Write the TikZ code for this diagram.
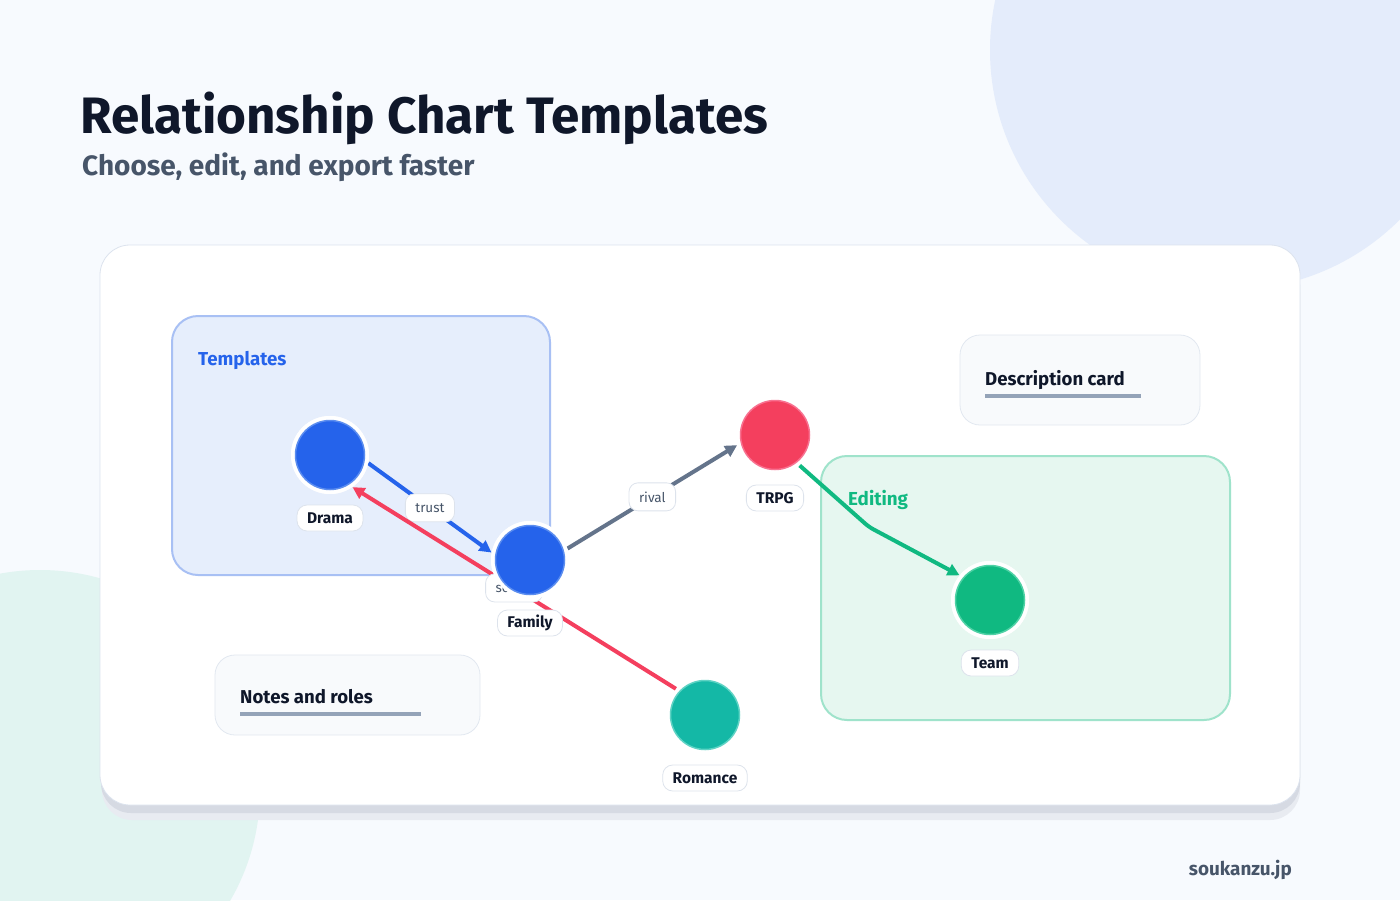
\documentclass[tikz,border=0pt]{standalone}
\usepackage{fontspec}
\setmainfont{Fira Sans}
\usetikzlibrary{arrows.meta}
\definecolor{bgc}{HTML}{F7FAFE}
\definecolor{bigc}{HTML}{E4ECFB}
\definecolor{tealc}{HTML}{E1F4F1}
\definecolor{cardline}{HTML}{DCE3EE}
\definecolor{shadowA}{HTML}{D6DAE3}
\definecolor{shadowB}{HTML}{E8EBF1}
\definecolor{tmplfill}{HTML}{E6EEFC}
\definecolor{tmplline}{HTML}{A8C0F4}
\definecolor{tmpltext}{HTML}{2563EB}
\definecolor{editfill}{HTML}{E6F7F0}
\definecolor{editline}{HTML}{9FE3CB}
\definecolor{edittext}{HTML}{10B981}
\definecolor{smallfill}{HTML}{F8FAFC}
\definecolor{smallline}{HTML}{E2E8F0}
\definecolor{barc}{HTML}{94A3B8}
\definecolor{titlec}{HTML}{0F172A}
\definecolor{subc}{HTML}{475569}
\definecolor{blueF}{HTML}{2563EB}
\definecolor{blueS}{HTML}{5B8DEF}
\definecolor{redF}{HTML}{F43F5E}
\definecolor{redS}{HTML}{F87190}
\definecolor{greenF}{HTML}{10B981}
\definecolor{greenS}{HTML}{4FD1A5}
\definecolor{tealF}{HTML}{14B8A6}
\definecolor{tealS}{HTML}{5ED3C4}
\definecolor{greyE}{HTML}{64748B}
\definecolor{pillline}{HTML}{DDE3EC}
\tikzset{
  ring/.style={circle, fill=white, minimum size=78pt, inner sep=0pt},
  dot/.style={circle, minimum size=69pt, inner sep=0pt, line width=1.5pt},
  namepill/.style={rounded corners=10pt, fill=white, draw=pillline, line width=0.8pt,
    minimum height=26pt, inner xsep=10pt, font=\fontsize{15.5}{17}\selectfont\bfseries, text=titlec},
  edgepill/.style={rounded corners=9pt, fill=white, draw=pillline, line width=0.8pt,
    minimum height=28pt, inner xsep=10pt, font=\fontsize{13.5}{15}\selectfont, text=subc},
  rel/.style={line width=4pt, -{Triangle[length=12pt,width=12pt]}},
  groupbox/.style={rounded corners=26pt, line width=2pt},
  infocard/.style={rounded corners=20pt, fill=smallfill, draw=smallline, line width=0.8pt},
  bar/.style={barc, line width=4pt},
  cardtext/.style={anchor=base west, inner sep=0pt, text=titlec, font=\fontsize{18.6}{20}\selectfont\bfseries},
}
\begin{document}
\begin{tikzpicture}[x=1pt,y=-1pt]
\useasboundingbox (0,0) rectangle (1400,900);
% background
\fill[bgc] (0,0) rectangle (1400,900);
\begin{scope}
\clip (0,0) rectangle (1400,900);
\fill[bigc] (1230,50) circle (240);
\fill[tealc] (40,790) circle (220);
\end{scope}
% card shadow and card
\fill[shadowB, rounded corners=30pt] (102,262) rectangle (1300,820);
\fill[shadowA, rounded corners=30pt] (101,255) rectangle (1300,813);
\filldraw[fill=white, draw=cardline, line width=0.8pt, rounded corners=30pt] (100,245) rectangle (1300,805);
% title
\node[anchor=base west, inner sep=0pt, text=titlec, font=\fontsize{51.2}{56}\selectfont\bfseries] (title) at (80,133) {Relationship Chart Templates};
\node[anchor=base west, inner sep=0pt, text=subc, font=\fontsize{28}{32}\selectfont\bfseries] (subtitle) at (82,175) {Choose, edit, and export faster};
% groups
\draw[groupbox, fill=tmplfill, draw=tmplline] (172,316) rectangle (550,575);
\node[anchor=base west, inner sep=0pt, text=tmpltext, font=\fontsize{18.7}{20}\selectfont\bfseries] (tmpllabel) at (198,365) {Templates};
\draw[groupbox, fill=editfill, draw=editline] (821,456) rectangle (1230,720);
\node[anchor=base west, inner sep=0pt, text=edittext, font=\fontsize{18.8}{20}\selectfont\bfseries] (editlabel) at (848,505) {Editing};
% info cards
\draw[infocard] (960,335) rectangle (1200,425);
\node[cardtext] (desc) at (985,385) {Description card};
\draw[bar] (985,395.5) -- (1141,395.5);
\draw[infocard] (215,655) rectangle (480,735);
\node[cardtext] (notes) at (240,703) {Notes and roles};
\draw[bar] (240,713.5) -- (421,713.5);
% node rings (named, for connectors)
\node[ring] (drama) at (330,455) {};
\node[ring] (family) at (530,560) {};
\node[ring] (trpg) at (775,435) {};
\node[ring] (team) at (990,600) {};
\node[ring] (romance) at (705,715) {};
\coordinate (bend) at (869,527);
% connectors
\draw[rel, blueF] (drama.348) -- node[edgepill, pos=0.5] {trust} (family.169);
\draw[rel, greyE] (family.17) -- node[edgepill, pos=0.5] {rival} (trpg.195);
\draw[rel, redF] (romance.138) -- node[edgepill, pos=0.5] (sec) {secret} (drama.305);
\draw[rel, greenF, rounded corners=5pt] (trpg.309) -- (bend) -- (team.141);
% nodes on top
\node[ring] at (family.center) {};
\node[ring] at (drama.center) {};
\node[ring] at (team.center) {};
\node[dot, fill=blueF, draw=blueS] (dramadot) at (drama.center) {};
\node[dot, fill=blueF, draw=blueS] (familydot) at (family.center) {};
\node[dot, fill=redF, draw=redS] (trpgdot) at (trpg.center) {};
\node[dot, fill=greenF, draw=greenS] (teamdot) at (team.center) {};
\node[dot, fill=tealF, draw=tealS] (romancedot) at (romance.center) {};
% name pills
\node[namepill] (dramaname) at (330,518) {Drama};
\node[namepill] (familyname) at (530,623) {Family};
\node[namepill] (trpgname) at (775,498) {TRPG};
\node[namepill] (teamname) at (990,663) {Team};
\node[namepill] (romancename) at (705,778) {Romance};
% footer
\node[anchor=base east, inner sep=0pt, text=subc, font=\fontsize{18.9}{21}\selectfont\bfseries] (site) at (1292,875) {soukanzu.jp};
\end{tikzpicture}
\end{document}
